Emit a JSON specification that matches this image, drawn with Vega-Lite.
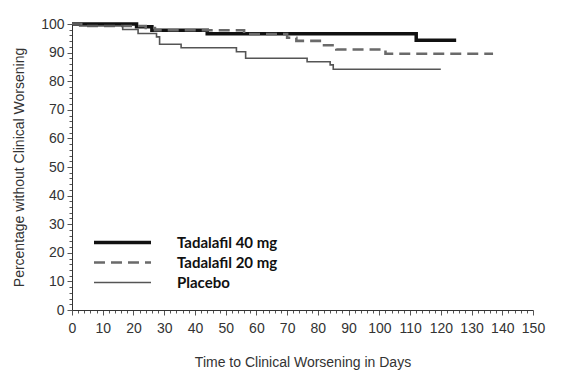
{
  "$schema": "https://vega.github.io/schema/vega-lite/v6.json",
  "width": 461,
  "height": 286,
  "autosize": {"type": "none"},
  "padding": {"left": 72, "top": 24, "right": 46, "bottom": 76},
  "background": "white",
  "config": {"view": {"stroke": null}},
  "data": {
    "values": [
      {"group": "Tadalafil 40 mg", "day": 0, "pct": 100},
      {"group": "Tadalafil 40 mg", "day": 21, "pct": 99},
      {"group": "Tadalafil 40 mg", "day": 26, "pct": 97.8},
      {"group": "Tadalafil 40 mg", "day": 44, "pct": 96.6},
      {"group": "Tadalafil 40 mg", "day": 112, "pct": 94.3},
      {"group": "Tadalafil 40 mg", "day": 125, "pct": 94.3},
      {"group": "Tadalafil 20 mg", "day": 0, "pct": 100},
      {"group": "Tadalafil 20 mg", "day": 3, "pct": 99.3},
      {"group": "Tadalafil 20 mg", "day": 24, "pct": 98.6},
      {"group": "Tadalafil 20 mg", "day": 27, "pct": 97.8},
      {"group": "Tadalafil 20 mg", "day": 56, "pct": 96.5},
      {"group": "Tadalafil 20 mg", "day": 70, "pct": 95.2},
      {"group": "Tadalafil 20 mg", "day": 73, "pct": 94.1},
      {"group": "Tadalafil 20 mg", "day": 82, "pct": 92.6},
      {"group": "Tadalafil 20 mg", "day": 86, "pct": 91.1},
      {"group": "Tadalafil 20 mg", "day": 102, "pct": 89.6},
      {"group": "Tadalafil 20 mg", "day": 137, "pct": 89.6},
      {"group": "Placebo", "day": 0, "pct": 100},
      {"group": "Placebo", "day": 2.5, "pct": 99.3},
      {"group": "Placebo", "day": 16.5, "pct": 98.1},
      {"group": "Placebo", "day": 21.5, "pct": 96.7},
      {"group": "Placebo", "day": 27.5, "pct": 95.5},
      {"group": "Placebo", "day": 28.5, "pct": 92.9},
      {"group": "Placebo", "day": 35.5, "pct": 91.7},
      {"group": "Placebo", "day": 53.5, "pct": 90.3},
      {"group": "Placebo", "day": 56.5, "pct": 88.0},
      {"group": "Placebo", "day": 76.5, "pct": 86.8},
      {"group": "Placebo", "day": 84, "pct": 85.7},
      {"group": "Placebo", "day": 85, "pct": 84.2},
      {"group": "Placebo", "day": 120, "pct": 84.2}
    ]
  },
  "mark": {"type": "line", "interpolate": "step-after", "clip": false},
  "encoding": {
    "x": {
      "field": "day", "type": "quantitative",
      "scale": {"domain": [0, 150], "nice": false, "zero": true},
      "axis": {
        "title": "Time to Clinical Worsening in Days",
        "values": [0,2,4,6,8,10,12,14,16,18,20,22,24,26,28,30,32,34,36,38,40,42,44,46,48,50,52,54,56,58,60,62,64,66,68,70,72,74,76,78,80,82,84,86,88,90,92,94,96,98,100,102,104,106,108,110,112,114,116,118,120,122,124,126,128,130,132,134,136,138,140,142,144,146,148,150],
        "labelExpr": "datum.value % 10 === 0 ? datum.label : ''",
        "tickSize": {"condition": {"test": "datum.value % 10 === 0", "value": 5}, "value": 3},
        "grid": false,
        "domainColor": "#333",
        "tickColor": "#555",
        "labelFont": "Liberation Sans",
        "labelFontSize": 14,
        "labelColor": "#333",
        "labelPadding": 6,
        "labelFlush": false,
        "labelOverlap": false,
        "titleFont": "Liberation Sans",
        "titleFontSize": 14,
        "titleFontWeight": "normal",
        "titleColor": "#333",
        "titlePadding": 20
      }
    },
    "y": {
      "field": "pct", "type": "quantitative",
      "scale": {"domain": [0, 100], "nice": false},
      "axis": {
        "title": "Percentage without Clinical Worsening",
        "values": [0,2,4,6,8,10,12,14,16,18,20,22,24,26,28,30,32,34,36,38,40,42,44,46,48,50,52,54,56,58,60,62,64,66,68,70,72,74,76,78,80,82,84,86,88,90,92,94,96,98,100],
        "labelExpr": "datum.value % 10 === 0 ? datum.label : ''",
        "tickSize": {"condition": {"test": "datum.value % 10 === 0", "value": 5}, "value": 3},
        "grid": false,
        "domainColor": "#333",
        "tickColor": "#555",
        "labelFont": "Liberation Sans",
        "labelFontSize": 14,
        "labelColor": "#333",
        "labelPadding": 3,
        "labelOverlap": false,
        "labelFlush": false,
        "titleFont": "Liberation Sans",
        "titleFontSize": 14,
        "titleFontWeight": "normal",
        "titleColor": "#333",
        "titlePadding": 14
      }
    },
    "color": {
      "field": "group", "type": "nominal",
      "scale": {"domain": ["Tadalafil 40 mg", "Tadalafil 20 mg", "Placebo"], "range": ["#111111", "#6a6a6a", "#555555"]},
      "legend": {
        "title": null,
        "orient": "none",
        "legendX": 43,
        "legendY": 211,
        "symbolType": "M-5,0H5",
        "symbolSize": 130,
        "labelOffset": 47,
        "rowPadding": 4,
        "padding": 0,
        "labelFont": "Lato",
        "labelFontWeight": "bold",
        "labelFontSize": 15,
        "labelColor": "#111"
      }
    },
    "strokeDash": {
      "field": "group", "type": "nominal",
      "scale": {"domain": ["Tadalafil 40 mg", "Tadalafil 20 mg", "Placebo"], "range": [[1, 0], [11, 6], [1, 0]]},
      "legend": {
        "title": null,
        "orient": "none",
        "legendX": 43,
        "legendY": 211,
        "symbolType": "M-5,0H5",
        "symbolSize": 130,
        "labelOffset": 47,
        "rowPadding": 4,
        "padding": 0,
        "labelFont": "Lato",
        "labelFontWeight": "bold",
        "labelFontSize": 15,
        "labelColor": "#111"
      }
    },
    "strokeWidth": {
      "field": "group", "type": "nominal",
      "scale": {"domain": ["Tadalafil 40 mg", "Tadalafil 20 mg", "Placebo"], "range": [3.5, 1.6, 1.5]},
      "legend": {
        "title": null,
        "orient": "none",
        "legendX": 43,
        "legendY": 211,
        "symbolType": "M-5,0H5",
        "symbolSize": 130,
        "labelOffset": 47,
        "rowPadding": 4,
        "padding": 0,
        "labelFont": "Lato",
        "labelFontWeight": "bold",
        "labelFontSize": 15,
        "labelColor": "#111"
      }
    }
  }
}
